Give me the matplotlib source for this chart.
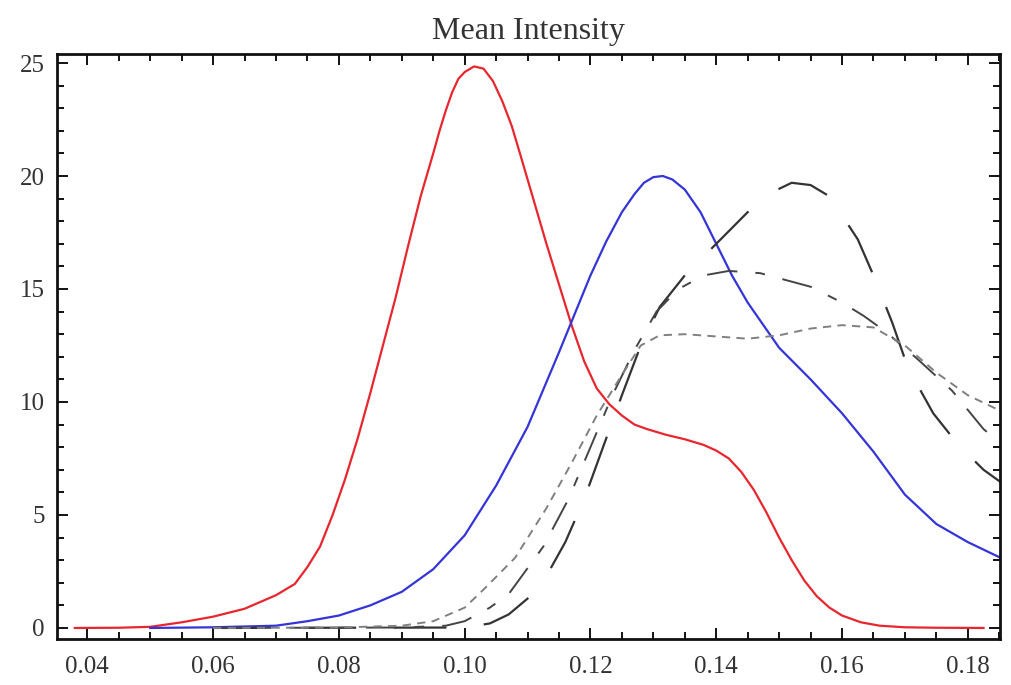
"""Mean intensity distributions, redrawn in a Mathematica-like frame."""

import matplotlib

matplotlib.use("Agg")

import matplotlib.pyplot as plt
from matplotlib.ticker import MultipleLocator

# red curve
red_x = [0.038, 0.045, 0.05, 0.055, 0.06, 0.065, 0.07, 0.073, 0.075, 0.077,
         0.079, 0.081, 0.083, 0.085, 0.087, 0.089, 0.091, 0.093, 0.095, 0.096,
         0.097, 0.098, 0.099, 0.1, 0.1015, 0.103, 0.1045, 0.106, 0.1075, 0.109,
         0.111, 0.113, 0.115, 0.117, 0.119, 0.121, 0.123, 0.125, 0.127, 0.129,
         0.132, 0.135, 0.138, 0.14, 0.142, 0.144, 0.146, 0.148, 0.15, 0.152,
         0.154, 0.156, 0.158, 0.16, 0.163, 0.166, 0.17, 0.175, 0.1825]
red_y = [0.0, 0.01, 0.05, 0.25, 0.5, 0.85, 1.45, 1.95, 2.7, 3.6,
         5.0, 6.6, 8.4, 10.4, 12.5, 14.6, 16.9, 19.1, 21.0, 22.0,
         22.9, 23.7, 24.3, 24.6, 24.85, 24.75, 24.2, 23.3, 22.2, 20.8,
         18.9, 17.0, 15.2, 13.4, 11.8, 10.6, 9.9, 9.4, 9.0, 8.8,
         8.55, 8.35, 8.1, 7.85, 7.5, 6.9, 6.1, 5.1, 4.0, 3.0,
         2.1, 1.4, 0.9, 0.55, 0.25, 0.1, 0.03, 0.01, 0.0]

# blue curve
blue_x = [0.05, 0.06, 0.07, 0.075, 0.08, 0.085, 0.09, 0.095, 0.1, 0.105,
          0.11, 0.115, 0.12, 0.1225, 0.125, 0.127, 0.1285, 0.13, 0.1315, 0.133,
          0.135, 0.1375, 0.14, 0.1425, 0.145, 0.1475, 0.15, 0.1525, 0.155, 0.16,
          0.165, 0.17, 0.175, 0.18, 0.186]
blue_y = [0.0, 0.03, 0.1, 0.3, 0.55, 1.0, 1.6, 2.6, 4.1, 6.3,
          8.9, 12.2, 15.6, 17.1, 18.4, 19.2, 19.7, 19.95, 20.0, 19.85,
          19.4, 18.4, 17.0, 15.6, 14.4, 13.4, 12.4, 11.7, 11.0, 9.5,
          7.8, 5.9, 4.6, 3.8, 3.0]

# long dashes
long_x = [0.06, 0.1, 0.104, 0.107, 0.11, 0.113, 0.116, 0.119, 0.122, 0.125,
          0.128, 0.131, 0.135, 0.14, 0.145, 0.149, 0.152, 0.155, 0.158, 0.1625,
          0.165, 0.168, 0.1705, 0.1745, 0.1785, 0.1825, 0.186]
long_y = [0.0, 0.02, 0.2, 0.6, 1.3, 2.3, 3.8, 5.7, 8.0, 10.3,
          12.5, 14.2, 15.6, 17.0, 18.4, 19.3, 19.7, 19.6, 19.1, 17.2,
          15.6, 13.5, 11.5, 9.5, 8.1, 7.0, 6.3]

# dash-dot
mid_x = [0.06, 0.09, 0.097, 0.1, 0.104, 0.107, 0.1125, 0.1165, 0.12, 0.1235,
         0.127, 0.1305, 0.134, 0.138, 0.142, 0.147, 0.155, 0.16, 0.1635, 0.167,
         0.172, 0.1775, 0.1825, 0.186]
mid_y = [0.0, 0.02, 0.1, 0.3, 0.9, 1.5, 3.6, 5.7, 8.0, 10.3,
         12.3, 14.0, 15.0, 15.6, 15.8, 15.7, 15.1, 14.4, 13.8, 13.1,
         11.9, 10.5, 8.8, 8.0]

# short dashes
short_x = [0.06, 0.08, 0.09, 0.095, 0.1, 0.103, 0.108, 0.113, 0.117, 0.121,
           0.125, 0.128, 0.131, 0.135, 0.14, 0.145, 0.15, 0.155, 0.16, 0.165,
           0.17, 0.175, 0.18, 0.186]
short_y = [0.0, 0.02, 0.1, 0.3, 0.9, 1.7, 3.1, 5.3, 7.3, 9.4,
           11.2, 12.5, 12.95, 13.0, 12.9, 12.8, 12.95, 13.25, 13.4, 13.3,
           12.5, 11.3, 10.3, 9.5]

x_ticks = [0.04, 0.06, 0.08, 0.10, 0.12, 0.14, 0.16, 0.18]
y_ticks = [0, 5, 10, 15, 20, 25]


def main() -> None:
    plt.rcParams["font.family"] = ["Liberation Serif", "DejaVu Serif"]
    plt.rcParams["lines.scale_dashes"] = False

    fig = plt.figure(figsize=(10.11, 6.85), dpi=100)
    ax = fig.add_axes([0.0564, 0.0672, 0.9326, 0.8540])

    ax.plot(red_x, red_y, color="#e8262e", lw=1.6)
    ax.plot(blue_x, blue_y, color="#3434d8", lw=1.6)
    ax.plot(long_x, long_y, color="#333333", lw=1.6, dashes=(38, 27))
    ax.plot(mid_x, mid_y, color="#444444", lw=1.4, dashes=(22, 13, 7, 13))
    ax.plot(short_x, short_y, color="#808080", lw=1.4, dashes=(6, 4.5))

    ax.set_xlim(0.03518, 0.1851)
    ax.set_ylim(-0.487, 25.4)
    ax.set_xticks(x_ticks)
    ax.set_xticklabels([f"{t:.2f}" for t in x_ticks])
    ax.set_yticks(y_ticks)
    ax.xaxis.set_minor_locator(MultipleLocator(0.005))
    ax.yaxis.set_minor_locator(MultipleLocator(1))

    ax.tick_params(which="both", direction="in", top=True, right=True,
                   width=1.4, color="#111111", labelsize=18, labelcolor="#333333")
    ax.tick_params(which="major", length=8)
    ax.tick_params(which="minor", length=5)
    ax.tick_params(axis="x", which="major", pad=12)
    ax.tick_params(axis="y", which="major", pad=9)
    for side in ax.spines.values():
        side.set_linewidth(2.0)
        side.set_color("#111111")

    ax.set_title("Mean Intensity", fontsize=23, color="#333333", pad=11)

    fig.savefig("out.png", dpi=100)
    plt.close(fig)


if __name__ == "__main__":
    main()
